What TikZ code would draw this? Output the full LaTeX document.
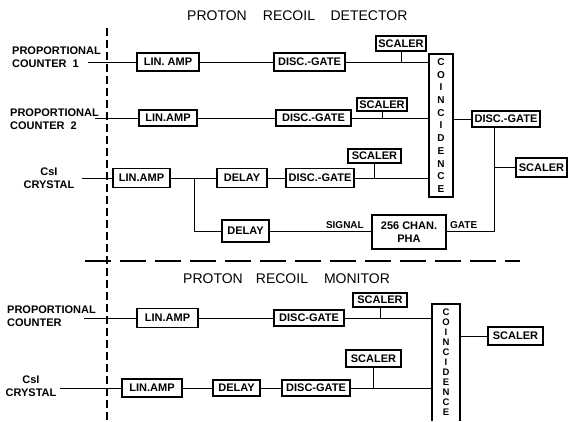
\documentclass[tikz,border=0pt]{standalone}
\usepackage{fontspec}
\setmainfont{Liberation Sans}
\begin{document}
\begin{tikzpicture}[x=1pt,y=-1pt,
  box/.style={draw,line width=1.1pt,inner sep=0pt,font=\fontsize{11}{12}\selectfont\bfseries},
  lbl/.style={inner sep=0pt,font=\fontsize{11}{13}\selectfont\bfseries},
  ttl/.style={inner sep=0pt,font=\fontsize{14}{16}\selectfont},
  wire/.style={line width=0.8pt},
  coin/.style={inner sep=0pt,align=center,font=\fontsize{10}{12.7}\selectfont\bfseries},
  coinb/.style={inner sep=0pt,align=center,font=\fontsize{9.5}{10}\selectfont\bfseries}]
\useasboundingbox (0,0) rectangle (569,421);
% titles
\node[ttl] (t1) at (217,16) {PROTON};
\node[ttl] (t2) at (289,16) {RECOIL};
\node[ttl] (t3) at (369,16) {DETECTOR};
\node[ttl] (m1) at (213,279) {PROTON};
\node[ttl] (m2) at (282,279) {RECOIL};
\node[ttl] (m3) at (357,279) {MONITOR};
% dashed separators
\coordinate (vt) at (107,28);
\coordinate (vb) at (107,421);
\coordinate (hl) at (85,261);
\coordinate (hr) at (520,261);
\draw[line width=1.2pt,dash pattern=on 8pt off 4pt] (vt) -- (vb);
\draw[line width=1.1pt,dash pattern=on 26pt off 9pt] (hl) -- (hr);
% side labels
\node[lbl,align=left,anchor=north west] (p1) at (12,47) {PROPORTIONAL\\COUNTER\ \ 1};
\node[lbl,align=left,anchor=north west] (p2) at (10,109) {PROPORTIONAL\\COUNTER\ \ 2};
\node[lbl,align=center] (c1) at (49,178) {CsI\\CRYSTAL};
\node[lbl,align=left,anchor=north west] (p4) at (7,306) {PROPORTIONAL\\COUNTER};
\node[lbl,align=center] (c2) at (31,386) {CsI\\CRYSTAL};
\coordinate (s1) at (88,62);
\coordinate (s2) at (95,118);
\coordinate (s3) at (82,178);
\coordinate (s4) at (84,318);
\coordinate (s5) at (60,388);
% detector boxes
\node[box,minimum width=62pt,minimum height=18pt] (la1) at (168,62) {LIN. AMP};
\node[box,minimum width=71pt,minimum height=18pt] (dg1) at (309.5,62) {DISC.-GATE};
\node[box,minimum width=50pt,minimum height=15pt] (sc1) at (401,43.5) {SCALER};
\node[box,minimum width=24pt,minimum height=143pt] (co1) at (441,125.5) {};
\node[coin] (co1t) at (co1.center) {C\\O\\I\\N\\C\\I\\D\\E\\N\\C\\E};
\node[box,minimum width=58pt,minimum height=16pt] (la2) at (168,118) {LIN.AMP};
\node[box,minimum width=75pt,minimum height=16pt] (dg2) at (313.5,118) {DISC.-GATE};
\node[box,minimum width=50pt,minimum height=13pt] (sc2) at (382,104.5) {SCALER};
\node[box,minimum width=68pt,minimum height=16pt] (dgo) at (506,119) {DISC.-GATE};
\node[box,minimum width=51pt,minimum height=19pt] (sco) at (541.5,167.5) {SCALER};
\node[box,minimum width=57pt,minimum height=19pt] (la3) at (141.5,178) {LIN.AMP};
\node[box,minimum width=50pt,minimum height=19pt] (dl3) at (242,178) {DELAY};
\node[box,minimum width=68pt,minimum height=19pt] (dg3) at (320,178) {DISC.-GATE};
\node[box,minimum width=53pt,minimum height=14pt] (sc3) at (374.5,156) {SCALER};
\node[box,minimum width=47pt,minimum height=22pt] (dl4) at (245.5,231) {DELAY};
\node[box,minimum width=74pt,minimum height=34pt,align=center,font=\fontsize{11}{13}\selectfont\bfseries] (pha) at (409,232) {256 CHAN.\\PHA};
\node[lbl,anchor=south east,font=\fontsize{10}{12}\selectfont\bfseries] (sig) at (364,229) {SIGNAL};
\node[lbl,anchor=south west,font=\fontsize{10}{12}\selectfont\bfseries] (gat) at (450,229) {GATE};
% monitor boxes
\node[box,minimum width=61pt,minimum height=19pt] (la4) at (167.5,318) {LIN.AMP};
\node[box,minimum width=70pt,minimum height=16pt] (dg4) at (309,318) {DISC-GATE};
\node[box,minimum width=54pt,minimum height=14pt] (sc4) at (380,300) {SCALER};
\node[box,minimum width=55pt,minimum height=18pt] (sc6) at (515.5,336) {SCALER};
\node[box,minimum width=60pt,minimum height=18pt] (la5) at (152,388) {LIN.AMP};
\node[box,minimum width=47pt,minimum height=16pt] (dl5) at (236.5,388) {DELAY};
\node[box,minimum width=68pt,minimum height=16pt] (dg5) at (316,388) {DISC-GATE};
\node[box,minimum width=55pt,minimum height=17pt] (sc5) at (373.5,358.5) {SCALER};
\coordinate (co2tl) at (432,304);
\coordinate (co2tr) at (460,304);
\coordinate (co2bl) at (432,421);
\coordinate (co2br) at (460,421);
\draw[line width=1.1pt] (co2bl) -- (co2tl) -- (co2tr) -- (co2br);
\node[coinb] (co2t) at (446,362) {C\\O\\I\\N\\C\\I\\D\\E\\N\\C\\E};
% wires detector
\draw[wire] (s1) -- (la1);
\draw[wire] (la1) -- (dg1);
\draw[wire] (dg1.east) -- (dg1.east -| co1.west);
\draw[wire] (sc1.south) -- (sc1.south |- dg1.east);
\draw[wire] (s2) -- (la2);
\draw[wire] (la2) -- (dg2);
\draw[wire] (dg2.east) -- (dg2.east -| co1.west);
\draw[wire] (sc2.south) -- (sc2.south |- dg2.east);
\draw[wire] (co1.east |- dgo.west) -- (dgo.west);
\coordinate (gv) at (494,231);
\draw[wire] (dgo.south -| gv) -- (gv) -- (pha.east |- gv);
\draw[wire] (gv |- sco.west) -- (sco.west);
\draw[wire] (s3) -- (la3);
\draw[wire] (la3) -- (dl3);
\draw[wire] (dl3) -- (dg3);
\draw[wire] (dg3.east) -- (dg3.east -| co1.west);
\draw[wire] (sc3.south) -- (sc3.south |- dg3.east);
\coordinate (br) at (194,178);
\draw[wire] (br) |- (dl4.west);
\draw[wire] (dl4.east) -- (dl4.east -| pha.west);
% wires monitor
\draw[wire] (s4) -- (la4);
\draw[wire] (la4) -- (dg4);
\draw[wire] (dg4.east) -- (dg4.east -| co2tl);
\draw[wire] (sc4.south) -- (sc4.south |- dg4.east);
\draw[wire] (co2tr |- sc6.west) -- (sc6.west);
\draw[wire] (s5) -- (la5);
\draw[wire] (la5) -- (dl5);
\draw[wire] (dl5) -- (dg5);
\draw[wire] (dg5.east) -- (dg5.east -| co2tl);
\draw[wire] (sc5.south) -- (sc5.south |- dg5.east);
\end{tikzpicture}
\end{document}
